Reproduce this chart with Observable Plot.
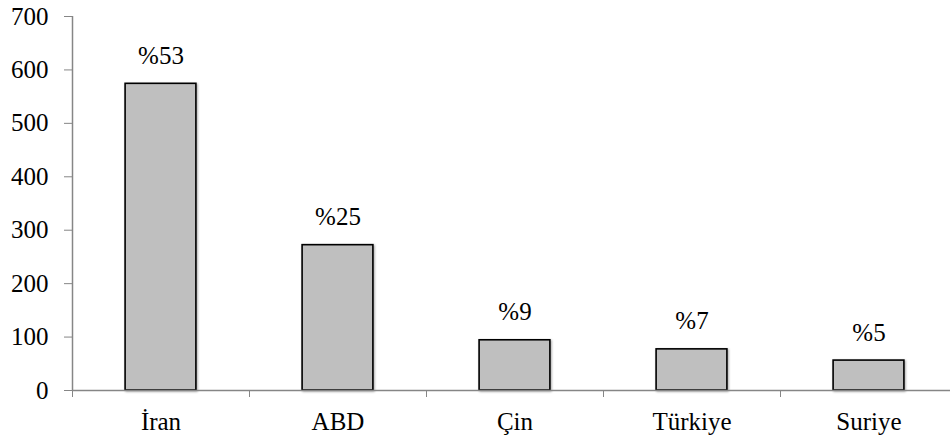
<!DOCTYPE html>
<html>
<head>
<meta charset="utf-8">
<script src="https://cdn.jsdelivr.net/npm/d3@7"></script>
<script src="https://cdn.jsdelivr.net/npm/@observablehq/plot@0.6"></script>
<style>
  html, body { margin: 0; padding: 0; background: #fff; }
  #chart svg { overflow: visible; }
  #chart g[aria-label="rect"] rect { filter: drop-shadow(1.5px 1.5px 1.2px rgba(0,0,0,0.35)); }
</style>
</head>
<body>
<div id="chart"></div>
<script>
const countries = ["İran", "ABD", "Çin", "Türkiye", "Suriye"];
const values = [574, 272, 94, 77, 56];
const percents = ["%53", "%25", "%9", "%7", "%5"];
const yTicks = [0, 100, 200, 300, 400, 500, 600, 700];

const data = countries.map((c, i) => ({country: c, index: i, value: values[i], pct: percents[i]}));
const boundaries = d3.range(countries.length + 1);

const font = "Liberation Serif";
const axisGray = "#868686";

const chart = Plot.plot({
  width: 950,
  height: 439,
  marginLeft: 72,
  marginTop: 16,
  marginBottom: 49,
  marginRight: 0,
  style: {fontFamily: "Liberation Serif, serif", fontSize: "25px", color: "#000", background: "#fff"},
  x: {type: "linear", domain: [0, countries.length], range: [72, 957], axis: null},
  y: {domain: [0, 700], range: [390, 16], axis: null, label: null},
  marks: [
    Plot.axisY({ticks: yTicks, tickSize: 8, tickPadding: 16, stroke: axisGray, fill: "#000", fontSize: 25, label: null, fontFamily: font}),
    Plot.ruleX([0], {y1: 0, y2: 700, stroke: axisGray, strokeWidth: 1.5}),
    Plot.axisX({ticks: boundaries, tickSize: 7, tickFormat: () => "", stroke: axisGray, label: null}),
    Plot.rectY(data, {
      x1: d => d.index + 0.3,
      x2: d => d.index + 0.7,
      y: "value",
      fill: "#bfbfbf",
      stroke: "#000",
      strokeWidth: 1.6
    }),
    Plot.ruleY([0], {x1: 0, x2: countries.length, stroke: axisGray, strokeWidth: 1.5}),
    Plot.text(data, {
      x: d => d.index + 0.5,
      y: "value",
      text: "pct",
      lineAnchor: "bottom",
      dy: -20,
      fontSize: 25,
      fontFamily: font,
      fill: "#000"
    }),
    Plot.text(data, {
      x: d => d.index + 0.5,
      y: () => 0,
      text: "country",
      lineAnchor: "bottom",
      dy: 39,
      fontSize: 25,
      fontFamily: font,
      fill: "#000"
    })
  ]
});
d3.select(chart).style("font-family", "'Liberation Serif', serif");
d3.select(chart).selectAll("text")
  .attr("font-family", "Liberation Serif")
  .style("font-family", "'Liberation Serif', serif");
document.getElementById("chart").appendChild(chart);
</script>
</body>
</html>
